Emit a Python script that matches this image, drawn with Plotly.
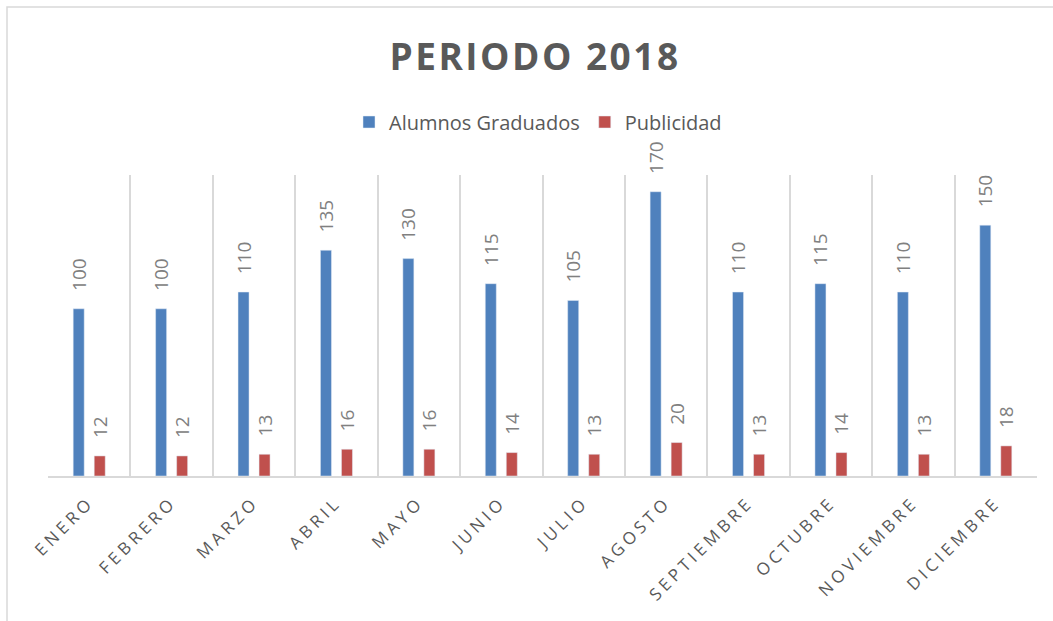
import plotly.graph_objects as go

meses = ["ENERO", "FEBRERO", "MARZO", "ABRIL", "MAYO", "JUNIO", "JULIO",
         "AGOSTO", "SEPTIEMBRE", "OCTUBRE", "NOVIEMBRE", "DICIEMBRE"]
alumnos = [100, 100, 110, 135, 130, 115, 105, 170, 110, 115, 110, 150]
publicidad = [12, 12, 13, 16, 16, 14, 13, 20, 13, 14, 13, 18]

PAD = "\u00a0\u00a0\u00a0"
FONT = "Open Sans"

fig = go.Figure()
fig.add_trace(go.Bar(
    x=meses, y=alumnos, name="Alumnos Graduados",
    marker=dict(color="#4F81BD"),
    text=[PAD + str(v) for v in alumnos], textposition="outside",
    textangle=-90, constraintext="none", cliponaxis=False,
    textfont=dict(family=FONT, size=19, color="#808080"),
))
fig.add_trace(go.Bar(
    x=meses, y=publicidad, name="Publicidad",
    marker=dict(color="#C0504D"),
    text=[PAD + str(v) for v in publicidad], textposition="outside",
    textangle=-90, constraintext="none", cliponaxis=False,
    textfont=dict(family=FONT, size=19, color="#808080"),
))

fig.update_layout(
    width=1053, height=621,
    margin=dict(l=48, r=16, t=175, b=145),
    paper_bgcolor="white", plot_bgcolor="white",
    barmode="group", bargap=0.49, bargroupgap=0.476,
    font=dict(family=FONT, color="#595959"),
    title=dict(text="<b>PERIODO 2018</b>", x=535 / 1053, xanchor="center",
               y=1 - 57 / 621, yanchor="middle",
               font=dict(family=FONT, size=37, color="#595959")),
    legend=dict(orientation="h", x=(538 - 48) / 989, xanchor="center",
                y=(476 - 122) / 301, yanchor="middle",
                font=dict(family=FONT, size=20, color="#595959"),
                bgcolor="rgba(0,0,0,0)"),
    showlegend=True,
    xaxis=dict(tickson="boundaries", showgrid=True, gridcolor="#D9D9D9",
               gridwidth=1.5, showline=True, linecolor="#D9D9D9", linewidth=1.5,
               ticks="", tickangle=-45, ticklabelstandoff=8,
               tickfont=dict(family=FONT, size=17, color="#595959")),
    yaxis=dict(range=[0, 180], visible=False, showgrid=False),
    shapes=[dict(type="rect", xref="paper", yref="paper",
                 x0=(7 - 48) / 989, x1=(1060 - 48) / 989,
                 y0=(476 - 640) / 301, y1=(476 - 7) / 301,
                 line=dict(color="#D9D9D9", width=1.5), layer="below")],
)

post = """
document.body.style.margin = '0';
document.body.style.padding = '0';
var gd = document.getElementById('{plot_id}');
gd.querySelectorAll('.xtick text').forEach(function(t){ t.style.letterSpacing = '4px'; });
var tt = gd.querySelector('.gtitle');
if (tt) { tt.style.letterSpacing = '2.5px'; }
"""

fig.write_html("out.html", post_script=post, config={"displayModeBar": False})
